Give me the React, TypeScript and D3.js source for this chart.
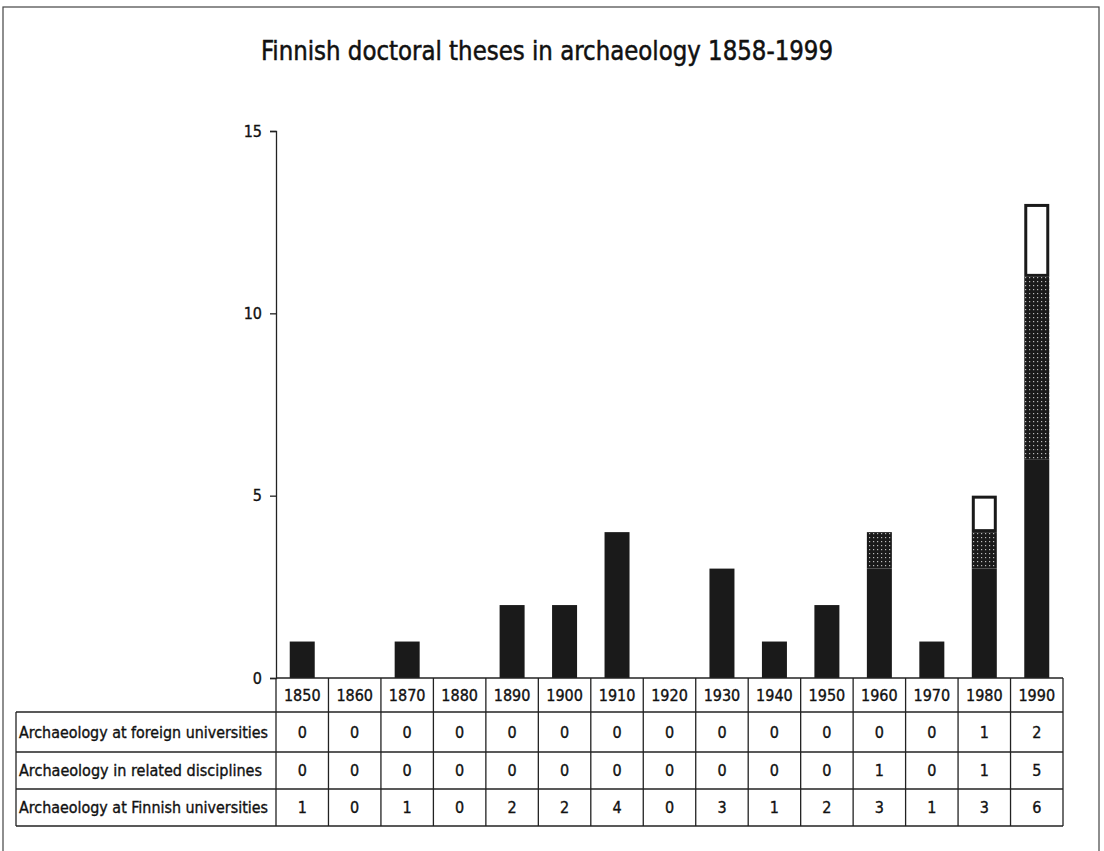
import React, { useEffect, useRef } from "react";
import * as d3 from "d3";

// decades shown on the x axis
const decades = ["1850", "1860", "1870", "1880", "1890", "1900", "1910", "1920", "1930", "1940", "1950", "1960", "1970", "1980", "1990"];
// series values per decade
const finnish = [1, 0, 1, 0, 2, 2, 4, 0, 3, 1, 2, 3, 1, 3, 6];
const related = [0, 0, 0, 0, 0, 0, 0, 0, 0, 0, 0, 1, 0, 1, 5];
const foreign = [0, 0, 0, 0, 0, 0, 0, 0, 0, 0, 0, 0, 0, 1, 2];
const yTicks = [0, 5, 10, 15];
const seriesNames = ["Archaeology at foreign universities", "Archaeology in related disciplines", "Archaeology at Finnish universities"];

const FONT = "'Liberation Sans Narrow', 'DejaVu Sans Condensed', Arial, sans-serif";

export default function App() {
  const ref = useRef<SVGSVGElement>(null);

  useEffect(() => {
    const svg = d3.select(ref.current);
    svg.selectAll("*").remove();

    const left = 276, right = 1063, top = 131, base = 678;
    const labelLeft = 16;

    // outer frame
    svg.append("rect")
      .attr("x", 3).attr("y", 7).attr("width", 1096).attr("height", 900)
      .attr("fill", "none").attr("stroke", "#444").attr("stroke-width", 1.2);

    // title
    svg.append("text")
      .attr("x", 547).attr("y", 60)
      .attr("text-anchor", "middle")
      .attr("textLength", 572).attr("lengthAdjust", "spacingAndGlyphs")
      .style("font-family", FONT).style("font-size", "27px")
      .attr("fill", "#111").attr("stroke", "#111").attr("stroke-width", 0.5)
      .text("Finnish doctoral theses in archaeology 1858-1999");

    // dotted pattern for related disciplines
    const defs = svg.append("defs");
    const pat = defs.append("pattern")
      .attr("id", "dots").attr("patternUnits", "userSpaceOnUse")
      .attr("width", 4).attr("height", 4);
    pat.append("rect").attr("width", 4).attr("height", 4).attr("fill", "#1a1a1a");
    pat.append("rect").attr("x", 1).attr("y", 1).attr("width", 1.2).attr("height", 1.2).attr("fill", "#bbb");

    const x = d3.scaleBand<string>().domain(decades).range([left, right]).paddingInner(0).paddingOuter(0);
    const y = d3.scaleLinear().domain([0, 15]).range([base, top]);

    // y axis
    const yAxis = d3.axisLeft(y).tickValues(yTicks).tickSize(6).tickPadding(8);
    const ga = svg.append("g").attr("transform", `translate(${left},0)`).call(yAxis);
    ga.select(".domain").attr("stroke", "#222").attr("stroke-width", 1.3);
    ga.selectAll(".tick line").attr("stroke", "#222").attr("stroke-width", 1.3);
    ga.selectAll(".tick text")
      .style("font-family", FONT).style("font-size", "16px")
      .attr("fill", "#111").attr("stroke", "#111").attr("stroke-width", 0.35);

    // stacked bars
    const rows = decades.map((d, i) => ({ decade: d, finnish: finnish[i], related: related[i], foreign: foreign[i] }));
    const stack = d3.stack<any>().keys(["finnish", "related", "foreign"]);
    const layers = stack(rows);
    const barW = 25;
    const fills: Record<string, string> = { finnish: "#1a1a1a", related: "url(#dots)", foreign: "#fff" };
    layers.forEach((layer) => {
      const inset = layer.key === "foreign" ? 1.5 : 0;
      svg.append("g").selectAll("rect")
        .data(layer.filter((s) => s[1] > s[0]))
        .enter().append("rect")
        .attr("x", (s: any) => x(s.data.decade)! + x.bandwidth() / 2 - barW / 2 + inset)
        .attr("y", (s) => y(s[1]) + inset)
        .attr("width", barW - 2 * inset)
        .attr("height", (s) => y(s[0]) - y(s[1]) - 2 * inset)
        .attr("fill", fills[layer.key])
        .attr("stroke", layer.key === "foreign" ? "#1a1a1a" : "none")
        .attr("stroke-width", 3);
    });

    // data table
    const rowH = [34, 40, 37, 37];
    const rowY = [base];
    rowH.forEach((h) => rowY.push(rowY[rowY.length - 1] + h));
    const tableRows = [foreign, related, finnish];
    const line = (x1: number, y1: number, x2: number, y2: number) =>
      svg.append("line").attr("x1", x1).attr("y1", y1).attr("x2", x2).attr("y2", y2)
        .attr("stroke", "#222").attr("stroke-width", 1.3);

    // horizontal lines
    line(left, base, right, base);
    line(labelLeft, rowY[1], right, rowY[1]);
    line(labelLeft, rowY[2], right, rowY[2]);
    line(labelLeft, rowY[3], right, rowY[3]);
    line(labelLeft, rowY[4], right, rowY[4]);
    // vertical lines
    line(labelLeft, rowY[1], labelLeft, rowY[4]);
    decades.forEach((d) => line(x(d)!, base, x(d)!, rowY[4]));
    line(right, base, right, rowY[4]);

    const txt = (tx: number, ty: number, s: string, anchor: string, len?: number) => {
      const t = svg.append("text").attr("x", tx).attr("y", ty).attr("text-anchor", anchor)
        .attr("dominant-baseline", "central")
        .style("font-family", FONT).style("font-size", "16px")
        .attr("fill", "#111").attr("stroke", "#111").attr("stroke-width", 0.35).text(s);
      if (len) t.attr("textLength", len).attr("lengthAdjust", "spacingAndGlyphs");
      return t;
    };

    decades.forEach((d) => txt(x(d)! + x.bandwidth() / 2, (rowY[0] + rowY[1]) / 2, d, "middle"));
    const labelLens = [249, 243, 249];
    tableRows.forEach((vals, r) => {
      const cy = (rowY[r + 1] + rowY[r + 2]) / 2;
      txt(labelLeft + 3, cy, seriesNames[r], "start", labelLens[r]);
      vals.forEach((v, i) => txt(x(decades[i])! + x.bandwidth() / 2, cy, String(v), "middle"));
    });
  }, []);

  return (
    <svg ref={ref} width={1104} height={851}
      style={{ position: "absolute", left: 0, top: 0, background: "#fff" }} />
  );
}
